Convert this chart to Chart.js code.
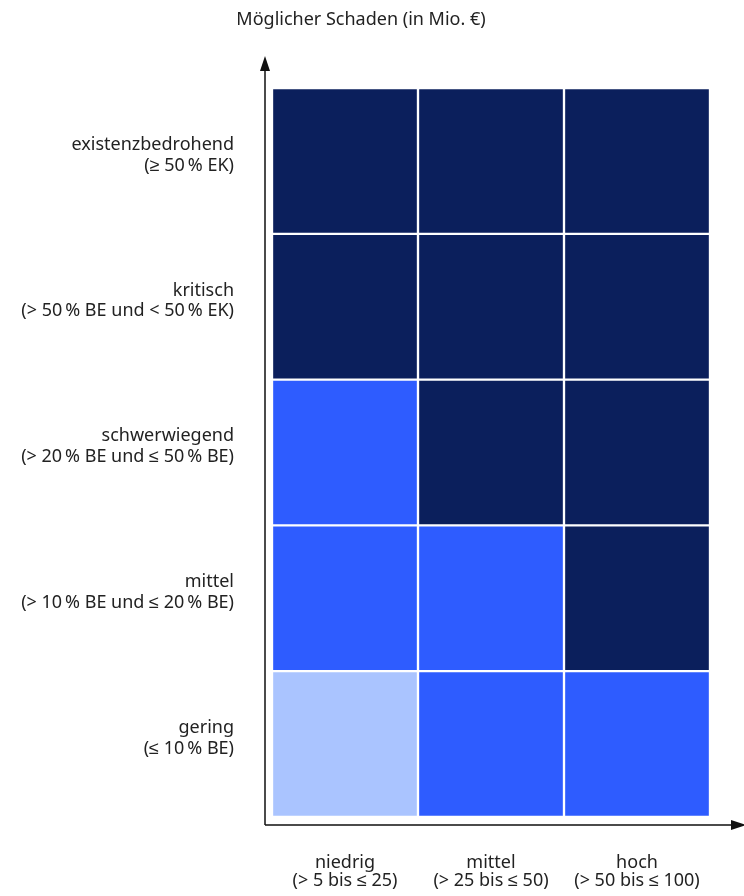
<!DOCTYPE html>
<html>
<head>
<meta charset="utf-8">
<script src="https://cdn.jsdelivr.net/npm/chart.js@4"></script>
<style>
    html, body { margin: 0; padding: 0; background: #fff; }
    #wrap { width: 744px; height: 896px; }
</style>
</head>
<body>
<div id="wrap"><canvas id="riskChart"></canvas></div>
<script>
// Achsenbeschriftungen
const damageLabels = [
    ['niedrig', '(> 5 bis \u2264 25)'],
    ['mittel', '(> 25 bis \u2264 50)'],
    ['hoch', '(> 50 bis \u2264 100)']
];
// Zeilen von unten nach oben
const impactLabels = [
    ['gering', '(\u2264 10\u2009% BE)'],
    ['mittel', '(> 10\u2009% BE und \u2264 20\u2009% BE)'],
    ['schwerwiegend', '(> 20\u2009% BE und \u2264 50\u2009% BE)'],
    ['kritisch', '(> 50\u2009% BE und < 50\u2009% EK)'],
    ['existenzbedrohend', '(\u2265 50\u2009% EK)']
];
// Risikostufe je Zelle (1 = niedrig, 2 = mittel, 3 = hoch), Spalten: niedrig, mittel, hoch
const gering = [1, 2, 2];
const mittel = [2, 2, 3];
const schwerwiegend = [2, 3, 3];
const kritisch = [3, 3, 3];
const existenzbedrohend = [3, 3, 3];
const riskRows = [gering, mittel, schwerwiegend, kritisch, existenzbedrohend];
const cellHeight = [1, 1, 1];
const axisTitle = 'M\u00f6glicher Schaden (in Mio. \u20ac)';

const levelColors = { 1: '#aac4ff', 2: '#2e5cff', 3: '#0b1f5c' };
const FONT = "'Noto Sans', sans-serif";

// Pfeile, Achsenlinien und Titel
const axesPlugin = {
    id: 'axesPlugin',
    afterDraw(chart) {
        const { ctx, chartArea } = chart;
        const x0 = chartArea.left - 7;
        const y0 = chartArea.bottom + 8;
        ctx.save();
        ctx.strokeStyle = '#111';
        ctx.fillStyle = '#111';
        ctx.lineWidth = 1.5;
        ctx.beginPath();
        ctx.moveTo(x0, y0);
        ctx.lineTo(x0, 66);
        ctx.moveTo(x0, y0);
        ctx.lineTo(736, y0);
        ctx.stroke();
        // Pfeilspitzen
        ctx.beginPath();
        ctx.moveTo(x0, 56);
        ctx.lineTo(x0 - 5, 71);
        ctx.lineTo(x0 + 5, 71);
        ctx.closePath();
        ctx.fill();
        ctx.beginPath();
        ctx.moveTo(746, y0);
        ctx.lineTo(731, y0 - 5);
        ctx.lineTo(731, y0 + 5);
        ctx.closePath();
        ctx.fill();
        // Titel
        ctx.font = '18px ' + FONT;
        ctx.fillStyle = '#222';
        ctx.textAlign = 'center';
        ctx.textBaseline = 'middle';
        ctx.fillText(axisTitle, 361, 20);
        ctx.restore();
    }
};

const datasets = riskRows.map((row, i) => ({
    label: impactLabels[i][0],
    data: cellHeight,
    backgroundColor: row.map(level => levelColors[level]),
    borderColor: '#fff',
    borderWidth: 1.5,
    borderSkipped: false,
    barPercentage: 1,
    categoryPercentage: 1
}));

const ctx = document.getElementById('riskChart').getContext('2d');
const riskChart = new Chart(ctx, {
    type: 'bar',
    data: {
        labels: damageLabels,
        datasets: datasets
    },
    options: {
        responsive: true,
        maintainAspectRatio: false,
        animation: false,
        layout: { padding: { top: 88, right: 34, left: 0, bottom: 0 } },
        plugins: {
            legend: { display: false },
            tooltip: { enabled: false }
        },
        scales: {
            x: {
                stacked: true,
                grid: { display: false, drawTicks: false },
                border: { display: false },
                ticks: {
                    padding: 36,
                    color: '#222',
                    font: { family: FONT, size: 18, lineHeight: 1.05 },
                    maxRotation: 0
                },
                afterFit(scale) { scale.height = 79; }
            },
            y: {
                stacked: true,
                min: 0,
                max: 5,
                grid: { display: false, drawTicks: false },
                border: { display: false },
                afterBuildTicks(scale) {
                    // Beschriftung leicht oberhalb der Zellmitte
                    scale.ticks = impactLabels.map((_, i) => ({ value: i + 0.54 }));
                },
                ticks: {
                    padding: 38,
                    color: '#222',
                    font: { family: FONT, size: 18, lineHeight: 1.15 },
                    callback: (value) => impactLabels[Math.floor(value)]
                },
                afterFit(scale) { scale.width = 272; }
            }
        }
    },
    plugins: [axesPlugin]
});
</script>
</body>
</html>
